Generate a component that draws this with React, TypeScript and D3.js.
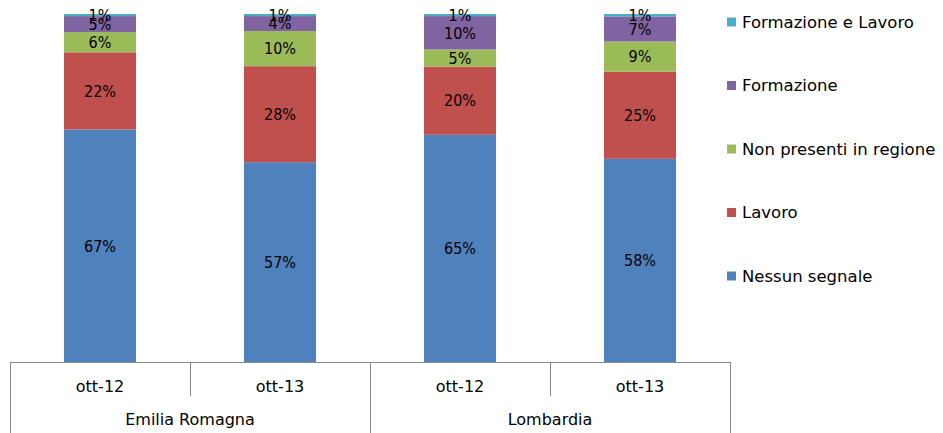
import React from "react";
import * as d3 from "d3";

// Chart data
const regions = ["Emilia Romagna", "Lombardia"];
const periods = ["ott-12", "ott-13"];
const series = ["Nessun segnale", "Lavoro", "Non presenti in regione", "Formazione", "Formazione e Lavoro"];
const colors = ["#4F81BD", "#C0504D", "#9BBB59", "#8064A2", "#4BACC6"];

// values per bar, in series order (percent)
const nessunSegnale = [66.8, 57.4, 65.3, 58.4];
const lavoro = [22.2, 27.6, 19.6, 25.0];
const nonPresenti = [5.8, 10.1, 4.9, 8.7];
const formazione = [4.6, 4.3, 9.6, 7.2];
const formazioneLavoro = [0.6, 0.6, 0.6, 0.7];

const FONT = "'DejaVu Sans', sans-serif";
const FONT_COND = "'DejaVu Sans Condensed', 'DejaVu Sans', sans-serif";

const App = () => {
  const width = 943;
  const height = 433;
  const marginLeft = 10;
  const plotRight = 730;
  const marginTop = 14;
  const baseline = 362;

  const bars = regions.flatMap((r) => periods.map((p) => ({ region: r, period: p })));
  const table = bars.map((b, i) => ({
    key: `${b.region}|${b.period}`,
    "Nessun segnale": nessunSegnale[i],
    Lavoro: lavoro[i],
    "Non presenti in regione": nonPresenti[i],
    Formazione: formazione[i],
    "Formazione e Lavoro": formazioneLavoro[i],
  }));

  const x = d3
    .scaleBand<string>()
    .domain(table.map((d) => d.key))
    .range([marginLeft, plotRight])
    .padding(0);

  const xGroup = d3.scaleBand<string>().domain(regions).range([marginLeft, plotRight]).padding(0);

  const y = d3.scaleLinear().domain([0, 100]).range([baseline, marginTop]);

  const stacked = d3.stack<any>().keys(series)(table);
  const barW = x.bandwidth() * 0.4;
  const fmt = (v: number) => `${Math.round(v)}%`;

  return (
    <svg
      width={width}
      height={height}
      style={{ position: "absolute", left: 0, top: 0, background: "#fff" }}
      fontFamily={FONT}
    >
      {stacked.map((layer, si) => (
        <g key={layer.key} fill={colors[si]}>
          {layer.map((d: any) => {
            const cx = x(d.data.key)! + x.bandwidth() / 2;
            const y0 = y(d[0]);
            const y1 = y(d[1]);
            return (
              <g key={d.data.key}>
                <rect x={cx - barW / 2} y={y1} width={barW} height={y0 - y1} />
                <text
                  x={cx}
                  y={(y0 + y1) / 2}
                  dy="0.36em"
                  textAnchor="middle"
                  fontFamily={FONT_COND}
                  fontSize={16}
                  fill="#000"
                >
                  {fmt(d[1] - d[0])}
                </text>
              </g>
            );
          })}
        </g>
      ))}

      {/* category axis */}
      <g stroke="#888" strokeWidth={1} shapeRendering="crispEdges">
        <line x1={marginLeft} x2={plotRight} y1={baseline} y2={baseline} />
        {table.map((d, i) =>
          i % periods.length !== 0 ? (
            <line key={d.key} x1={x(d.key)} x2={x(d.key)} y1={baseline} y2={396} />
          ) : null
        )}
        {[...regions.map((r) => xGroup(r)!), plotRight].map((gx, i) => (
          <line key={i} x1={gx} x2={gx} y1={baseline} y2={height} />
        ))}
      </g>
      <g fontSize={16} textAnchor="middle" fill="#000">
        {bars.map((b, i) => (
          <text key={i} x={x(table[i].key)! + x.bandwidth() / 2} y={392}>
            {b.period}
          </text>
        ))}
        {regions.map((r) => (
          <text key={r} x={xGroup(r)! + xGroup.bandwidth() / 2} y={425}>
            {r}
          </text>
        ))}
      </g>

      {/* legend */}
      <g fontSize={16.5}>
        {series
          .map((s, i) => ({ s, c: colors[i] }))
          .reverse()
          .map((d, i) => {
            const ly = 22 + i * 63.5;
            return (
              <g key={d.s}>
                <rect x={727} y={ly - 4.5} width={9} height={9} fill={d.c} />
                <text x={742} y={ly} dy="0.36em" fill="#000">
                  {d.s}
                </text>
              </g>
            );
          })}
      </g>
    </svg>
  );
};

export default App;
